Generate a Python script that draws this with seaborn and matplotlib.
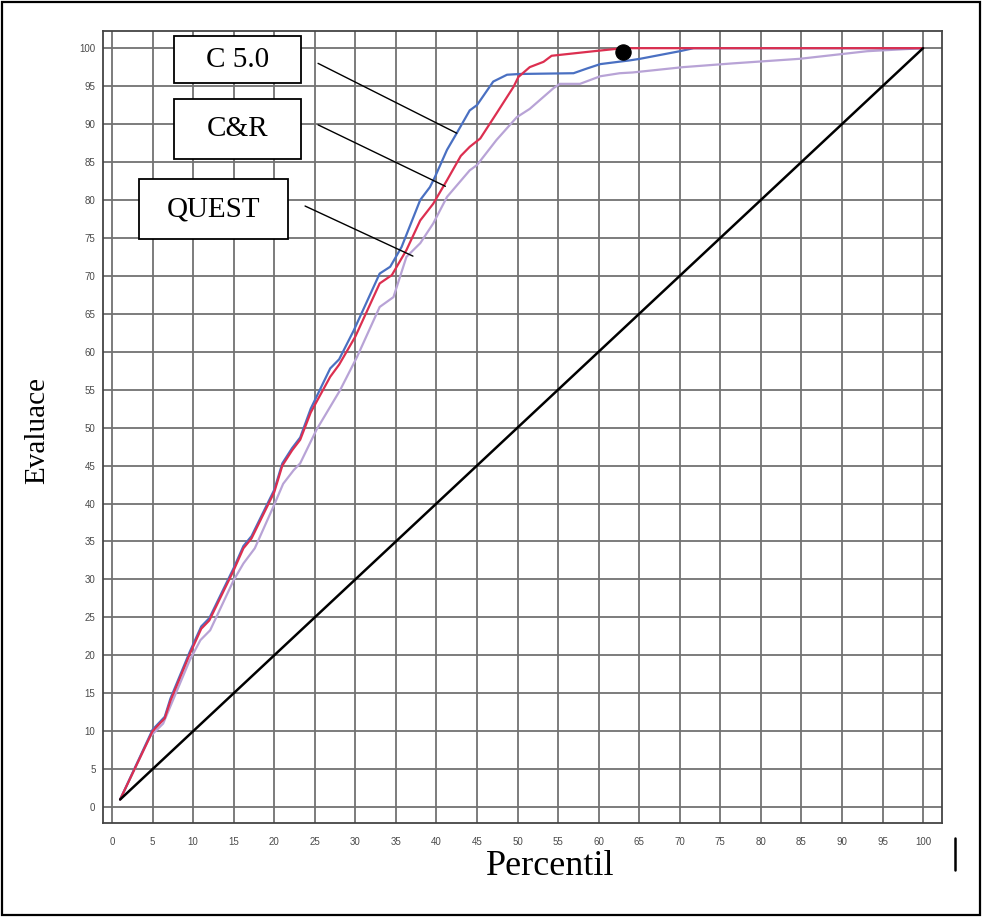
# Lift chart: C 5.0 vs C&R vs QUEST against the random baseline
import pandas as pd
import seaborn as sns
import matplotlib.pyplot as plt
from matplotlib.patches import Rectangle
from matplotlib.lines import Line2D

# 1. Data (percentile -> evaluation in %)
c50_x = [1, 5, 6.5, 7.2, 9.6, 11, 12, 15, 16.2, 17.2, 20, 21, 22.2, 23.2, 24.5, 26.9, 28,
         29.8, 33, 34.3, 35.7, 38, 39.2, 39.8, 41.3, 42.5, 44.1, 45, 47, 48.7, 50.3, 56.9,
         58.5, 60.2, 63.9, 65.1, 70, 71.7, 100]
c50_y = [1, 10.2, 11.9, 14.3, 20.5, 23.8, 24.9, 31.5, 34.4, 35.7, 41.8, 45.3, 47.3, 48.7,
         52.5, 57.8, 59, 62.8, 70.3, 71.2, 73.8, 80, 81.7, 83, 86.6, 88.8, 91.8, 92.5, 95.6,
         96.5, 96.6, 96.7, 97.3, 97.9, 98.4, 98.6, 99.6, 100, 100]

cr_x = [1, 5, 6.5, 7.2, 9.6, 11, 12, 15, 16.2, 17.2, 20, 21, 22.2, 23.2, 24.5, 26.9, 28, 30,
        33, 34.5, 36.3, 38, 39.6, 41.3, 43, 44.1, 45.4, 47.4, 49.5, 50.1, 51.5, 53.2, 54.2,
        59.4, 63, 100]
cr_y = [1, 10, 11.7, 14, 20.2, 23.5, 24.6, 31.2, 34.1, 35.4, 41.5, 45, 47, 48.4, 52, 56.7,
        58.3, 62, 69, 70.1, 73.4, 77.3, 79.5, 82.6, 85.8, 87, 88.1, 91.4, 94.9, 96.2, 97.5,
        98.2, 99, 99.6, 100, 100]

quest_x = [1, 4.7, 6.3, 9.6, 10.9, 12.1, 15, 16.2, 17.6, 19.9, 21.1, 22.4, 23.2, 25.2, 28.1,
           30.2, 33, 34.7, 36.3, 38, 39.6, 41.3, 44.1, 45, 47.4, 49.9, 51.5, 54.4, 55.2, 57.7,
           60.2, 62.6, 64.2, 70.4, 76.6, 84.8, 93.1, 100]
quest_y = [1, 9.3, 11, 19.4, 22, 23.3, 29.9, 32.1, 34.1, 39.6, 42.6, 44.4, 45.3, 49.7, 54.9,
           59.3, 65.9, 67.2, 72.5, 74.3, 76.9, 80.4, 83.9, 84.6, 87.9, 90.9, 92, 94.7, 95.3,
           95.3, 96.3, 96.7, 96.8, 97.5, 98, 98.6, 99.6, 100]

base_x = [1, 100]
base_y = [1, 100]

dot_x = [63]
dot_y = [99.5]

ticks = list(range(0, 101, 5))

# 2. Style
sns.set_style("white")
plt.rcParams['font.family'] = ['Liberation Sans', 'DejaVu Sans']
plt.rcParams['text.color'] = 'black'

fig = plt.figure(figsize=(9.82, 9.17), dpi=100)
ax = fig.add_axes([0.105, 0.1025, 0.854, 0.864])

# 3. Curves
sns.lineplot(x=quest_x, y=quest_y, ax=ax, color="#b8a3d6", linewidth=1.6, zorder=3)
sns.lineplot(x=c50_x, y=c50_y, ax=ax, color="#4a70c2", linewidth=1.6, zorder=4)
sns.lineplot(x=cr_x, y=cr_y, ax=ax, color="#dc2f50", linewidth=1.6, zorder=5)
sns.lineplot(x=base_x, y=base_y, ax=ax, color="black", linewidth=1.8, zorder=5)
sns.scatterplot(x=dot_x, y=dot_y, ax=ax, color="black", s=120, zorder=6, edgecolor="black")

# 4. Axes, grid and ticks
ax.set_xlim(-1.1, 102.3)
ax.set_ylim(-2.1, 102.3)
ax.set_xticks(ticks)
ax.set_yticks(ticks)
ax.grid(True, color="#727272", linewidth=1.3, zorder=0)
ax.set_axisbelow(True)
for s in ax.spines.values():
    s.set_color("#444444")
    s.set_linewidth(1.3)
ax.tick_params(axis="both", direction="out", length=4, width=1, color="#555555",
               labelsize=7, labelcolor="#4a4a4a")
ax.tick_params(axis="x", pad=6)
ax.tick_params(axis="y", pad=1.5)
ax.set_xlabel("")
ax.set_ylabel("")

# Axis labels in serif, placed like the original
fig.text(0.038, 0.530, "Evaluace", rotation=90, ha="center", va="center",
         family="Liberation Serif", fontsize=21, color="black")
fig.text(0.560, 0.0556, "Percentil", ha="center", va="center",
         family="Liberation Serif", fontsize=26, color="black")

# 5. Label boxes with leader lines
boxes = [("C 5.0", 7.6, 95.4, 15.7, 6.2, (25.4, 98.0), (42.5, 88.8)),
         ("C&R", 7.6, 85.4, 15.7, 7.9, (25.4, 89.9), (41.1, 81.8)),
         ("QUEST", 3.3, 74.8, 18.4, 7.9, (23.8, 79.2), (37.1, 72.6))]
for name, bx, by, bw, bh, p0, p1 in boxes:
    ax.add_patch(Rectangle((bx, by), bw, bh, facecolor="white", edgecolor="black",
                           linewidth=1.3, zorder=7))
    ax.text(bx + bw / 2, by + bh / 2, name, ha="center", va="center", fontsize=21,
            family="Liberation Serif", color="black", zorder=8)
    ax.plot([p0[0], p1[0]], [p0[1], p1[1]], color="black", linewidth=1, zorder=7)

# 6. Frame round the whole figure and the small bar at bottom right
fig.patches.append(Rectangle((0.002, 0.002), 0.996, 0.996, transform=fig.transFigure,
                             fill=False, edgecolor="black", linewidth=1.6))
fig.add_artist(Line2D([0.9725, 0.9725], [0.051, 0.086], color="black", linewidth=1.8))

fig.savefig("out.png", dpi=100)
